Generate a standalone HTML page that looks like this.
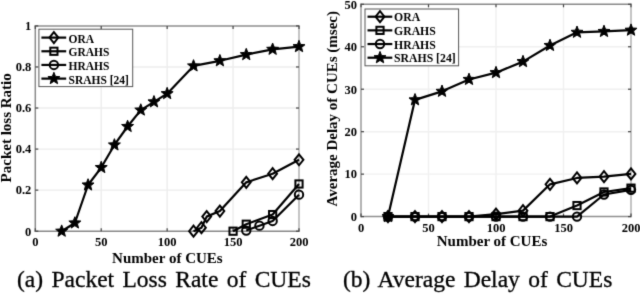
<!DOCTYPE html><html><head><meta charset="utf-8"><style>
html,body{margin:0;padding:0;background:#fff;width:640px;height:294px;overflow:hidden}
svg{display:block}
.tk{font-family:"Liberation Serif",serif;font-weight:bold;font-size:12.5px;fill:#000}
.lab{font-family:"Liberation Serif",serif;font-weight:bold;font-size:15px;fill:#000}
.lg{font-family:"Liberation Serif",serif;font-weight:bold;font-size:11.5px;fill:#000}
.cap{font-family:"Liberation Serif",serif;font-size:23.5px;word-spacing:2.5px;fill:#000;stroke:#000;stroke-width:0.3px}
</style></head><body>
<svg width="640" height="294" viewBox="0 0 640 294">
<defs><filter id="bl" x="-5%" y="-5%" width="110%" height="110%" color-interpolation-filters="sRGB"><feConvolveMatrix order="3" kernelMatrix="0.01440 0.09120 0.01440 0.09120 0.57760 0.09120 0.01440 0.09120 0.01440" edgeMode="duplicate" preserveAlpha="false"/></filter></defs><g filter="url(#bl)"><rect width="640" height="294" fill="#fff"/>
<line x1="101.22" y1="25.9" x2="101.22" y2="231.2" stroke="#ededed" stroke-width="1.4"/>
<line x1="167.15" y1="25.9" x2="167.15" y2="231.2" stroke="#ededed" stroke-width="1.4"/>
<line x1="233.07" y1="25.9" x2="233.07" y2="231.2" stroke="#ededed" stroke-width="1.4"/>
<line x1="35.3" y1="190.14" x2="299" y2="190.14" stroke="#ededed" stroke-width="1.4"/>
<line x1="35.3" y1="149.08" x2="299" y2="149.08" stroke="#ededed" stroke-width="1.4"/>
<line x1="35.3" y1="108.02" x2="299" y2="108.02" stroke="#ededed" stroke-width="1.4"/>
<line x1="35.3" y1="66.96" x2="299" y2="66.96" stroke="#ededed" stroke-width="1.4"/>
<line x1="35.3" y1="25.2" x2="35.3" y2="231.89999999999998" stroke="#8a8a8a" stroke-width="1.5"/>
<line x1="299" y1="25.2" x2="299" y2="231.89999999999998" stroke="#b0b0b0" stroke-width="1.5"/>
<line x1="34.599999999999994" y1="25.9" x2="299.7" y2="25.9" stroke="#8e8e8e" stroke-width="1.5"/>
<line x1="34.599999999999994" y1="231.2" x2="299.7" y2="231.2" stroke="#888888" stroke-width="1.5"/>
<line x1="35.3" y1="231.20" x2="38.3" y2="231.20" stroke="#444" stroke-width="1.2"/>
<line x1="296" y1="231.20" x2="299" y2="231.20" stroke="#444" stroke-width="1.2"/>
<line x1="35.3" y1="190.14" x2="38.3" y2="190.14" stroke="#444" stroke-width="1.2"/>
<line x1="296" y1="190.14" x2="299" y2="190.14" stroke="#444" stroke-width="1.2"/>
<line x1="35.3" y1="149.08" x2="38.3" y2="149.08" stroke="#444" stroke-width="1.2"/>
<line x1="296" y1="149.08" x2="299" y2="149.08" stroke="#444" stroke-width="1.2"/>
<line x1="35.3" y1="108.02" x2="38.3" y2="108.02" stroke="#444" stroke-width="1.2"/>
<line x1="296" y1="108.02" x2="299" y2="108.02" stroke="#444" stroke-width="1.2"/>
<line x1="35.3" y1="66.96" x2="38.3" y2="66.96" stroke="#444" stroke-width="1.2"/>
<line x1="296" y1="66.96" x2="299" y2="66.96" stroke="#444" stroke-width="1.2"/>
<line x1="35.3" y1="25.90" x2="38.3" y2="25.90" stroke="#444" stroke-width="1.2"/>
<line x1="296" y1="25.90" x2="299" y2="25.90" stroke="#444" stroke-width="1.2"/>
<line x1="35.30" y1="231.2" x2="35.30" y2="228.2" stroke="#444" stroke-width="1.2"/>
<line x1="35.30" y1="25.9" x2="35.30" y2="28.9" stroke="#444" stroke-width="1.2"/>
<line x1="101.22" y1="231.2" x2="101.22" y2="228.2" stroke="#444" stroke-width="1.2"/>
<line x1="101.22" y1="25.9" x2="101.22" y2="28.9" stroke="#444" stroke-width="1.2"/>
<line x1="167.15" y1="231.2" x2="167.15" y2="228.2" stroke="#444" stroke-width="1.2"/>
<line x1="167.15" y1="25.9" x2="167.15" y2="28.9" stroke="#444" stroke-width="1.2"/>
<line x1="233.07" y1="231.2" x2="233.07" y2="228.2" stroke="#444" stroke-width="1.2"/>
<line x1="233.07" y1="25.9" x2="233.07" y2="28.9" stroke="#444" stroke-width="1.2"/>
<line x1="299.00" y1="231.2" x2="299.00" y2="228.2" stroke="#444" stroke-width="1.2"/>
<line x1="299.00" y1="25.9" x2="299.00" y2="28.9" stroke="#444" stroke-width="1.2"/>
<text x="31.299999999999997" y="235.50" text-anchor="end" class="tk">0</text>
<text x="31.299999999999997" y="194.44" text-anchor="end" class="tk">0.2</text>
<text x="31.299999999999997" y="153.38" text-anchor="end" class="tk">0.4</text>
<text x="31.299999999999997" y="112.32" text-anchor="end" class="tk">0.6</text>
<text x="31.299999999999997" y="71.26" text-anchor="end" class="tk">0.8</text>
<text x="31.299999999999997" y="30.20" text-anchor="end" class="tk">1</text>
<text x="35.30" y="246" text-anchor="middle" class="tk">0</text>
<text x="101.22" y="246" text-anchor="middle" class="tk">50</text>
<text x="167.15" y="246" text-anchor="middle" class="tk">100</text>
<text x="233.07" y="246" text-anchor="middle" class="tk">150</text>
<text x="299.00" y="246" text-anchor="middle" class="tk">200</text>
<text x="167.40" y="263" text-anchor="middle" class="lab">Number of CUEs</text>
<text transform="translate(11,127.8) rotate(-90)" text-anchor="middle" class="lab">Packet loss Ratio</text>
<polyline points="193.52,231.20 201.43,227.71 206.70,216.62 219.89,211.08 246.26,182.34 272.63,173.72 299.00,159.76" fill="none" stroke="#000" stroke-width="2.2" stroke-linejoin="round"/>
<polygon points="193.52,225.70 197.92,231.20 193.52,236.70 189.12,231.20" fill="none" stroke="#000" stroke-width="2"/>
<polygon points="201.43,222.21 205.83,227.71 201.43,233.21 197.03,227.71" fill="none" stroke="#000" stroke-width="2"/>
<polygon points="206.70,211.12 211.10,216.62 206.70,222.12 202.30,216.62" fill="none" stroke="#000" stroke-width="2"/>
<polygon points="219.89,205.58 224.29,211.08 219.89,216.58 215.49,211.08" fill="none" stroke="#000" stroke-width="2"/>
<polygon points="246.26,176.84 250.66,182.34 246.26,187.84 241.86,182.34" fill="none" stroke="#000" stroke-width="2"/>
<polygon points="272.63,168.22 277.03,173.72 272.63,179.22 268.23,173.72" fill="none" stroke="#000" stroke-width="2"/>
<polygon points="299.00,154.26 303.40,159.76 299.00,165.26 294.60,159.76" fill="none" stroke="#000" stroke-width="2"/>
<polyline points="233.07,231.20 246.26,224.22 272.63,214.57 299.00,183.98" fill="none" stroke="#000" stroke-width="2.2" stroke-linejoin="round"/>
<rect x="229.47" y="227.60" width="7.20" height="7.20" fill="none" stroke="#000" stroke-width="2"/>
<rect x="242.66" y="220.62" width="7.20" height="7.20" fill="none" stroke="#000" stroke-width="2"/>
<rect x="269.03" y="210.97" width="7.20" height="7.20" fill="none" stroke="#000" stroke-width="2"/>
<rect x="295.40" y="180.38" width="7.20" height="7.20" fill="none" stroke="#000" stroke-width="2"/>
<polyline points="246.26,230.58 259.44,225.66 272.63,220.94 299.00,194.66" fill="none" stroke="#000" stroke-width="2.2" stroke-linejoin="round"/>
<circle cx="246.26" cy="230.58" r="4.20" fill="none" stroke="#000" stroke-width="2"/>
<circle cx="259.44" cy="225.66" r="4.20" fill="none" stroke="#000" stroke-width="2"/>
<circle cx="272.63" cy="220.94" r="4.20" fill="none" stroke="#000" stroke-width="2"/>
<circle cx="299.00" cy="194.66" r="4.20" fill="none" stroke="#000" stroke-width="2"/>
<polyline points="61.67,231.20 74.85,222.99 88.04,185.01 101.22,167.56 114.41,144.97 127.59,126.50 140.78,110.07 153.97,101.86 167.15,93.65 193.52,65.93 219.89,60.80 246.26,54.64 272.63,49.30 299.00,46.64" fill="none" stroke="#000" stroke-width="2.2" stroke-linejoin="round"/>
<polygon points="61.67,224.90 63.26,229.01 67.66,229.25 64.25,232.04 65.37,236.30 61.67,233.91 57.97,236.30 59.09,232.04 55.68,229.25 60.08,229.01" fill="#000" stroke="#000" stroke-width="1" stroke-linejoin="round"/>
<polygon points="74.85,216.69 76.45,220.80 80.85,221.04 77.43,223.83 78.56,228.08 74.85,225.70 71.15,228.08 72.28,223.83 68.86,221.04 73.26,220.80" fill="#000" stroke="#000" stroke-width="1" stroke-linejoin="round"/>
<polygon points="88.04,178.71 89.63,182.82 94.03,183.06 90.62,185.84 91.74,190.10 88.04,187.72 84.34,190.10 85.46,185.84 82.05,183.06 86.45,182.82" fill="#000" stroke="#000" stroke-width="1" stroke-linejoin="round"/>
<polygon points="101.22,161.26 102.82,165.37 107.22,165.61 103.80,168.39 104.93,172.65 101.22,170.27 97.52,172.65 98.65,168.39 95.23,165.61 99.63,165.37" fill="#000" stroke="#000" stroke-width="1" stroke-linejoin="round"/>
<polygon points="114.41,138.67 116.00,142.78 120.40,143.03 116.99,145.81 118.11,150.07 114.41,147.68 110.71,150.07 111.83,145.81 108.42,143.03 112.82,142.78" fill="#000" stroke="#000" stroke-width="1" stroke-linejoin="round"/>
<polygon points="127.59,120.20 129.19,124.31 133.59,124.55 130.17,127.33 131.30,131.59 127.59,129.21 123.89,131.59 125.02,127.33 121.60,124.55 126.00,124.31" fill="#000" stroke="#000" stroke-width="1" stroke-linejoin="round"/>
<polygon points="140.78,103.77 142.37,107.88 146.77,108.13 143.36,110.91 144.48,115.17 140.78,112.78 137.08,115.17 138.20,110.91 134.79,108.13 139.19,107.88" fill="#000" stroke="#000" stroke-width="1" stroke-linejoin="round"/>
<polygon points="153.97,95.56 155.56,99.67 159.96,99.91 156.54,102.70 157.67,106.96 153.97,104.57 150.26,106.96 151.39,102.70 147.97,99.91 152.37,99.67" fill="#000" stroke="#000" stroke-width="1" stroke-linejoin="round"/>
<polygon points="167.15,87.35 168.74,91.46 173.14,91.70 169.73,94.49 170.85,98.75 167.15,96.36 163.45,98.75 164.57,94.49 161.16,91.70 165.56,91.46" fill="#000" stroke="#000" stroke-width="1" stroke-linejoin="round"/>
<polygon points="193.52,59.63 195.11,63.74 199.51,63.99 196.10,66.77 197.22,71.03 193.52,68.64 189.82,71.03 190.94,66.77 187.53,63.99 191.93,63.74" fill="#000" stroke="#000" stroke-width="1" stroke-linejoin="round"/>
<polygon points="219.89,54.50 221.48,58.61 225.88,58.85 222.47,61.64 223.59,65.90 219.89,63.51 216.19,65.90 217.31,61.64 213.90,58.85 218.30,58.61" fill="#000" stroke="#000" stroke-width="1" stroke-linejoin="round"/>
<polygon points="246.26,48.34 247.85,52.45 252.25,52.70 248.84,55.48 249.96,59.74 246.26,57.35 242.56,59.74 243.68,55.48 240.27,52.70 244.67,52.45" fill="#000" stroke="#000" stroke-width="1" stroke-linejoin="round"/>
<polygon points="272.63,43.00 274.22,47.11 278.62,47.36 275.21,50.14 276.33,54.40 272.63,52.01 268.93,54.40 270.05,50.14 266.64,47.36 271.04,47.11" fill="#000" stroke="#000" stroke-width="1" stroke-linejoin="round"/>
<polygon points="299.00,40.34 300.59,44.44 304.99,44.69 301.58,47.47 302.70,51.73 299.00,49.34 295.30,51.73 296.42,47.47 293.01,44.69 297.41,44.44" fill="#000" stroke="#000" stroke-width="1" stroke-linejoin="round"/>
<rect x="38.9" y="29.2" width="93.79999999999998" height="57.39999999999999" fill="#fff" stroke="#555" stroke-width="1"/>
<line x1="41.4" y1="37.60" x2="66.2" y2="37.60" stroke="#000" stroke-width="2.2"/>
<polygon points="53.90,32.10 58.30,37.60 53.90,43.10 49.50,37.60" fill="none" stroke="#000" stroke-width="2"/>
<text x="68.50" y="42.60" class="lg" style="font-size:11.5px">ORA</text>
<line x1="41.4" y1="51.27" x2="66.2" y2="51.27" stroke="#000" stroke-width="2.2"/>
<rect x="50.30" y="47.67" width="7.20" height="7.20" fill="none" stroke="#000" stroke-width="2"/>
<text x="68.50" y="56.27" class="lg" style="font-size:11.5px">GRAHS</text>
<line x1="41.4" y1="64.94" x2="66.2" y2="64.94" stroke="#000" stroke-width="2.2"/>
<circle cx="53.90" cy="64.94" r="4.20" fill="none" stroke="#000" stroke-width="2"/>
<text x="68.50" y="69.94" class="lg" style="font-size:11.5px">HRAHS</text>
<line x1="41.4" y1="78.61" x2="66.2" y2="78.61" stroke="#000" stroke-width="2.2"/>
<polygon points="53.90,72.31 55.49,76.42 59.89,76.66 56.48,79.45 57.60,83.71 53.90,81.32 50.20,83.71 51.32,79.45 47.91,76.66 52.31,76.42" fill="#000" stroke="#000" stroke-width="1" stroke-linejoin="round"/>
<text x="68.50" y="83.61" class="lg" style="font-size:11.5px">SRAHS [24]</text>
<line x1="428.50" y1="4.3" x2="428.50" y2="216.6" stroke="#f0f0f0" stroke-width="1.4"/>
<line x1="496.00" y1="4.3" x2="496.00" y2="216.6" stroke="#f0f0f0" stroke-width="1.4"/>
<line x1="563.50" y1="4.3" x2="563.50" y2="216.6" stroke="#f0f0f0" stroke-width="1.4"/>
<line x1="361" y1="174.14" x2="631" y2="174.14" stroke="#f0f0f0" stroke-width="1.4"/>
<line x1="361" y1="131.68" x2="631" y2="131.68" stroke="#f0f0f0" stroke-width="1.4"/>
<line x1="361" y1="89.22" x2="631" y2="89.22" stroke="#f0f0f0" stroke-width="1.4"/>
<line x1="361" y1="46.76" x2="631" y2="46.76" stroke="#f0f0f0" stroke-width="1.4"/>
<line x1="361" y1="3.5999999999999996" x2="361" y2="217.29999999999998" stroke="#9a9a9a" stroke-width="1.5"/>
<line x1="631" y1="3.5999999999999996" x2="631" y2="217.29999999999998" stroke="#b0b0b0" stroke-width="1.5"/>
<line x1="360.3" y1="4.3" x2="631.7" y2="4.3" stroke="#8a8a8a" stroke-width="1.5"/>
<line x1="360.3" y1="216.6" x2="631.7" y2="216.6" stroke="#909090" stroke-width="1.5"/>
<line x1="361" y1="216.60" x2="364" y2="216.60" stroke="#444" stroke-width="1.2"/>
<line x1="628" y1="216.60" x2="631" y2="216.60" stroke="#444" stroke-width="1.2"/>
<line x1="361" y1="174.14" x2="364" y2="174.14" stroke="#444" stroke-width="1.2"/>
<line x1="628" y1="174.14" x2="631" y2="174.14" stroke="#444" stroke-width="1.2"/>
<line x1="361" y1="131.68" x2="364" y2="131.68" stroke="#444" stroke-width="1.2"/>
<line x1="628" y1="131.68" x2="631" y2="131.68" stroke="#444" stroke-width="1.2"/>
<line x1="361" y1="89.22" x2="364" y2="89.22" stroke="#444" stroke-width="1.2"/>
<line x1="628" y1="89.22" x2="631" y2="89.22" stroke="#444" stroke-width="1.2"/>
<line x1="361" y1="46.76" x2="364" y2="46.76" stroke="#444" stroke-width="1.2"/>
<line x1="628" y1="46.76" x2="631" y2="46.76" stroke="#444" stroke-width="1.2"/>
<line x1="361" y1="4.30" x2="364" y2="4.30" stroke="#444" stroke-width="1.2"/>
<line x1="628" y1="4.30" x2="631" y2="4.30" stroke="#444" stroke-width="1.2"/>
<line x1="361.00" y1="216.6" x2="361.00" y2="213.6" stroke="#444" stroke-width="1.2"/>
<line x1="361.00" y1="4.3" x2="361.00" y2="7.3" stroke="#444" stroke-width="1.2"/>
<line x1="428.50" y1="216.6" x2="428.50" y2="213.6" stroke="#444" stroke-width="1.2"/>
<line x1="428.50" y1="4.3" x2="428.50" y2="7.3" stroke="#444" stroke-width="1.2"/>
<line x1="496.00" y1="216.6" x2="496.00" y2="213.6" stroke="#444" stroke-width="1.2"/>
<line x1="496.00" y1="4.3" x2="496.00" y2="7.3" stroke="#444" stroke-width="1.2"/>
<line x1="563.50" y1="216.6" x2="563.50" y2="213.6" stroke="#444" stroke-width="1.2"/>
<line x1="563.50" y1="4.3" x2="563.50" y2="7.3" stroke="#444" stroke-width="1.2"/>
<line x1="631.00" y1="216.6" x2="631.00" y2="213.6" stroke="#444" stroke-width="1.2"/>
<line x1="631.00" y1="4.3" x2="631.00" y2="7.3" stroke="#444" stroke-width="1.2"/>
<text x="357" y="220.90" text-anchor="end" class="tk">0</text>
<text x="357" y="178.44" text-anchor="end" class="tk">10</text>
<text x="357" y="135.98" text-anchor="end" class="tk">20</text>
<text x="357" y="93.52" text-anchor="end" class="tk">30</text>
<text x="357" y="51.06" text-anchor="end" class="tk">40</text>
<text x="357" y="8.60" text-anchor="end" class="tk">50</text>
<text x="361.00" y="232" text-anchor="middle" class="tk">0</text>
<text x="428.50" y="232" text-anchor="middle" class="tk">50</text>
<text x="496.00" y="232" text-anchor="middle" class="tk">100</text>
<text x="563.50" y="232" text-anchor="middle" class="tk">150</text>
<text x="631.00" y="232" text-anchor="middle" class="tk">200</text>
<text x="492.00" y="246" text-anchor="middle" class="lab">Number of CUEs</text>
<text transform="translate(337.2,108.75) rotate(-90)" text-anchor="middle" class="lab">Average Delay of CUEs (msec)</text>
<polyline points="388.00,216.60 415.00,216.60 442.00,216.60 469.00,216.60 496.00,214.05 523.00,210.66 550.00,184.33 577.00,177.96 604.00,176.69 631.00,173.93" fill="none" stroke="#000" stroke-width="2.2" stroke-linejoin="round"/>
<polygon points="388.00,211.10 392.40,216.60 388.00,222.10 383.60,216.60" fill="none" stroke="#000" stroke-width="2"/>
<polygon points="415.00,211.10 419.40,216.60 415.00,222.10 410.60,216.60" fill="none" stroke="#000" stroke-width="2"/>
<polygon points="442.00,211.10 446.40,216.60 442.00,222.10 437.60,216.60" fill="none" stroke="#000" stroke-width="2"/>
<polygon points="469.00,211.10 473.40,216.60 469.00,222.10 464.60,216.60" fill="none" stroke="#000" stroke-width="2"/>
<polygon points="496.00,208.55 500.40,214.05 496.00,219.55 491.60,214.05" fill="none" stroke="#000" stroke-width="2"/>
<polygon points="523.00,205.16 527.40,210.66 523.00,216.16 518.60,210.66" fill="none" stroke="#000" stroke-width="2"/>
<polygon points="550.00,178.83 554.40,184.33 550.00,189.83 545.60,184.33" fill="none" stroke="#000" stroke-width="2"/>
<polygon points="577.00,172.46 581.40,177.96 577.00,183.46 572.60,177.96" fill="none" stroke="#000" stroke-width="2"/>
<polygon points="604.00,171.19 608.40,176.69 604.00,182.19 599.60,176.69" fill="none" stroke="#000" stroke-width="2"/>
<polygon points="631.00,168.43 635.40,173.93 631.00,179.43 626.60,173.93" fill="none" stroke="#000" stroke-width="2"/>
<polyline points="388.00,216.60 415.00,216.60 442.00,216.60 469.00,216.60 496.00,216.60 523.00,216.60 550.00,216.60 577.00,205.56 604.00,191.97 631.00,188.15" fill="none" stroke="#000" stroke-width="2.2" stroke-linejoin="round"/>
<rect x="384.40" y="213.00" width="7.20" height="7.20" fill="none" stroke="#000" stroke-width="2"/>
<rect x="411.40" y="213.00" width="7.20" height="7.20" fill="none" stroke="#000" stroke-width="2"/>
<rect x="438.40" y="213.00" width="7.20" height="7.20" fill="none" stroke="#000" stroke-width="2"/>
<rect x="465.40" y="213.00" width="7.20" height="7.20" fill="none" stroke="#000" stroke-width="2"/>
<rect x="492.40" y="213.00" width="7.20" height="7.20" fill="none" stroke="#000" stroke-width="2"/>
<rect x="519.40" y="213.00" width="7.20" height="7.20" fill="none" stroke="#000" stroke-width="2"/>
<rect x="546.40" y="213.00" width="7.20" height="7.20" fill="none" stroke="#000" stroke-width="2"/>
<rect x="573.40" y="201.96" width="7.20" height="7.20" fill="none" stroke="#000" stroke-width="2"/>
<rect x="600.40" y="188.37" width="7.20" height="7.20" fill="none" stroke="#000" stroke-width="2"/>
<rect x="627.40" y="184.55" width="7.20" height="7.20" fill="none" stroke="#000" stroke-width="2"/>
<polyline points="388.00,216.60 415.00,216.60 442.00,216.60 469.00,216.60 496.00,216.60 523.00,216.60 550.00,216.60 577.00,216.60 604.00,194.52 631.00,189.85" fill="none" stroke="#000" stroke-width="2.2" stroke-linejoin="round"/>
<circle cx="388.00" cy="216.60" r="4.20" fill="none" stroke="#000" stroke-width="2"/>
<circle cx="415.00" cy="216.60" r="4.20" fill="none" stroke="#000" stroke-width="2"/>
<circle cx="442.00" cy="216.60" r="4.20" fill="none" stroke="#000" stroke-width="2"/>
<circle cx="469.00" cy="216.60" r="4.20" fill="none" stroke="#000" stroke-width="2"/>
<circle cx="496.00" cy="216.60" r="4.20" fill="none" stroke="#000" stroke-width="2"/>
<circle cx="523.00" cy="216.60" r="4.20" fill="none" stroke="#000" stroke-width="2"/>
<circle cx="550.00" cy="216.60" r="4.20" fill="none" stroke="#000" stroke-width="2"/>
<circle cx="577.00" cy="216.60" r="4.20" fill="none" stroke="#000" stroke-width="2"/>
<circle cx="604.00" cy="194.52" r="4.20" fill="none" stroke="#000" stroke-width="2"/>
<circle cx="631.00" cy="189.85" r="4.20" fill="none" stroke="#000" stroke-width="2"/>
<polyline points="388.00,216.60 415.00,99.84 442.00,91.34 469.00,79.45 496.00,72.66 523.00,61.62 550.00,45.49 577.00,32.32 604.00,31.47 631.00,30.20" fill="none" stroke="#000" stroke-width="2.2" stroke-linejoin="round"/>
<polygon points="388.00,210.30 389.59,214.41 393.99,214.65 390.58,217.44 391.70,221.70 388.00,219.31 384.30,221.70 385.42,217.44 382.01,214.65 386.41,214.41" fill="#000" stroke="#000" stroke-width="1" stroke-linejoin="round"/>
<polygon points="415.00,93.54 416.59,97.64 420.99,97.89 417.58,100.67 418.70,104.93 415.00,102.54 411.30,104.93 412.42,100.67 409.01,97.89 413.41,97.64" fill="#000" stroke="#000" stroke-width="1" stroke-linejoin="round"/>
<polygon points="442.00,85.04 443.59,89.15 447.99,89.40 444.58,92.18 445.70,96.44 442.00,94.05 438.30,96.44 439.42,92.18 436.01,89.40 440.41,89.15" fill="#000" stroke="#000" stroke-width="1" stroke-linejoin="round"/>
<polygon points="469.00,73.15 470.59,77.26 474.99,77.51 471.58,80.29 472.70,84.55 469.00,82.16 465.30,84.55 466.42,80.29 463.01,77.51 467.41,77.26" fill="#000" stroke="#000" stroke-width="1" stroke-linejoin="round"/>
<polygon points="496.00,66.36 497.59,70.47 501.99,70.71 498.58,73.50 499.70,77.76 496.00,75.37 492.30,77.76 493.42,73.50 490.01,70.71 494.41,70.47" fill="#000" stroke="#000" stroke-width="1" stroke-linejoin="round"/>
<polygon points="523.00,55.32 524.59,59.43 528.99,59.67 525.58,62.46 526.70,66.72 523.00,64.33 519.30,66.72 520.42,62.46 517.01,59.67 521.41,59.43" fill="#000" stroke="#000" stroke-width="1" stroke-linejoin="round"/>
<polygon points="550.00,39.19 551.59,43.29 555.99,43.54 552.58,46.32 553.70,50.58 550.00,48.20 546.30,50.58 547.42,46.32 544.01,43.54 548.41,43.29" fill="#000" stroke="#000" stroke-width="1" stroke-linejoin="round"/>
<polygon points="577.00,26.02 578.59,30.13 582.99,30.38 579.58,33.16 580.70,37.42 577.00,35.03 573.30,37.42 574.42,33.16 571.01,30.38 575.41,30.13" fill="#000" stroke="#000" stroke-width="1" stroke-linejoin="round"/>
<polygon points="604.00,25.17 605.59,29.28 609.99,29.53 606.58,32.31 607.70,36.57 604.00,34.18 600.30,36.57 601.42,32.31 598.01,29.53 602.41,29.28" fill="#000" stroke="#000" stroke-width="1" stroke-linejoin="round"/>
<polygon points="631.00,23.90 632.59,28.01 636.99,28.25 633.58,31.04 634.70,35.30 631.00,32.91 627.30,35.30 628.42,31.04 625.01,28.25 629.41,28.01" fill="#000" stroke="#000" stroke-width="1" stroke-linejoin="round"/>
<rect x="365" y="9" width="93.60000000000002" height="56.8" fill="#fff" stroke="#555" stroke-width="1"/>
<line x1="367.5" y1="16.70" x2="392.3" y2="16.70" stroke="#000" stroke-width="2.2"/>
<polygon points="380.00,11.20 384.40,16.70 380.00,22.20 375.60,16.70" fill="none" stroke="#000" stroke-width="2"/>
<text x="394.00" y="21.30" class="lg" style="font-size:11.75px">ORA</text>
<line x1="367.5" y1="30.37" x2="392.3" y2="30.37" stroke="#000" stroke-width="2.2"/>
<rect x="376.40" y="26.77" width="7.20" height="7.20" fill="none" stroke="#000" stroke-width="2"/>
<text x="394.00" y="34.97" class="lg" style="font-size:11.75px">GRAHS</text>
<line x1="367.5" y1="44.04" x2="392.3" y2="44.04" stroke="#000" stroke-width="2.2"/>
<circle cx="380.00" cy="44.04" r="4.20" fill="none" stroke="#000" stroke-width="2"/>
<text x="394.00" y="48.64" class="lg" style="font-size:11.75px">HRAHS</text>
<line x1="367.5" y1="57.71" x2="392.3" y2="57.71" stroke="#000" stroke-width="2.2"/>
<polygon points="380.00,51.41 381.59,55.52 385.99,55.76 382.58,58.55 383.70,62.81 380.00,60.42 376.30,62.81 377.42,58.55 374.01,55.76 378.41,55.52" fill="#000" stroke="#000" stroke-width="1" stroke-linejoin="round"/>
<text x="394.00" y="62.31" class="lg" style="font-size:11.75px">SRAHS [24]</text>
<text x="17" y="287" class="cap">(a) Packet Loss Rate of CUEs</text>
<text x="343" y="287" class="cap">(b) Average Delay of CUEs</text>
</g></svg></body></html>
